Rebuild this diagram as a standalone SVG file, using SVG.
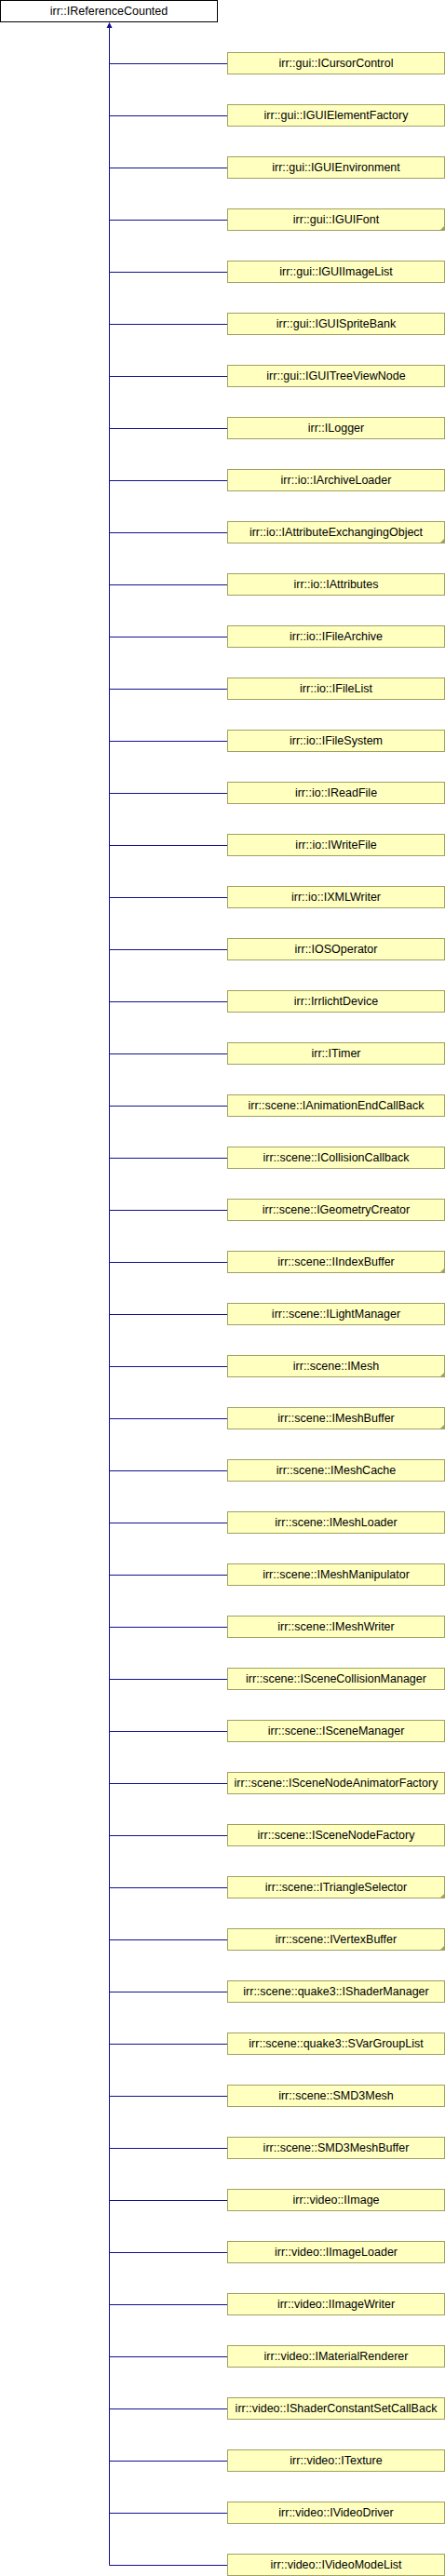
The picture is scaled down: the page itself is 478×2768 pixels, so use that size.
<svg xmlns="http://www.w3.org/2000/svg" width="478" height="2768" viewBox="0 0 478 2768">
<style>
.bg{fill:#ffffff}
.base{fill:#ffffff;stroke:#000000;stroke-width:1}
.box{fill:#ffffc0;stroke:#a0a060;stroke-width:1}
.lbl{font-family:"Liberation Sans",Arial,sans-serif;font-size:12.5px;fill:#000000;text-anchor:middle}
.edge{stroke:#101090;stroke-width:1;fill:none}
.arrow{fill:#101090}
.mark{fill:#a0a060}
</style>
<rect class="bg" x="0" y="0" width="478" height="2768"/>
<g id="connectors">
<path class="edge" d="M117.5 29V2756.5"/>
<polygon class="arrow" points="117.5,24 114.5,30 120.5,30"/>
<path class="edge" d="M117.5 68.5H244 M117.5 124.5H244 M117.5 180.5H244 M117.5 236.5H244 M117.5 292.5H244 M117.5 348.5H244 M117.5 404.5H244 M117.5 460.5H244 M117.5 516.5H244 M117.5 572.5H244 M117.5 628.5H244 M117.5 684.5H244 M117.5 740.5H244 M117.5 796.5H244 M117.5 852.5H244 M117.5 908.5H244 M117.5 964.5H244 M117.5 1020.5H244 M117.5 1076.5H244 M117.5 1132.5H244 M117.5 1188.5H244 M117.5 1244.5H244 M117.5 1300.5H244 M117.5 1356.5H244 M117.5 1412.5H244 M117.5 1468.5H244 M117.5 1524.5H244 M117.5 1580.5H244 M117.5 1636.5H244 M117.5 1692.5H244 M117.5 1748.5H244 M117.5 1804.5H244 M117.5 1860.5H244 M117.5 1916.5H244 M117.5 1972.5H244 M117.5 2028.5H244 M117.5 2084.5H244 M117.5 2140.5H244 M117.5 2196.5H244 M117.5 2252.5H244 M117.5 2308.5H244 M117.5 2364.5H244 M117.5 2420.5H244 M117.5 2476.5H244 M117.5 2532.5H244 M117.5 2588.5H244 M117.5 2644.5H244 M117.5 2700.5H244 M117.5 2756.5H244"/>
</g>
<g id="n0"><rect class="base" x="0.5" y="0.5" width="233" height="23"/><text class="lbl" x="117" y="16">irr::IReferenceCounted</text></g>
<g id="n1"><rect class="box" x="244.5" y="56.5" width="233" height="23"/><text class="lbl" x="361" y="72">irr::gui::ICursorControl</text></g>
<g id="n2"><rect class="box" x="244.5" y="112.5" width="233" height="23"/><text class="lbl" x="361" y="128">irr::gui::IGUIElementFactory</text></g>
<g id="n3"><rect class="box" x="244.5" y="168.5" width="233" height="23"/><text class="lbl" x="361" y="184">irr::gui::IGUIEnvironment</text></g>
<g id="n4"><rect class="box" x="244.5" y="224.5" width="233" height="23"/><text class="lbl" x="361" y="240">irr::gui::IGUIFont</text><polygon class="mark" points="472,248 478,242 478,248"/></g>
<g id="n5"><rect class="box" x="244.5" y="280.5" width="233" height="23"/><text class="lbl" x="361" y="296">irr::gui::IGUIImageList</text></g>
<g id="n6"><rect class="box" x="244.5" y="336.5" width="233" height="23"/><text class="lbl" x="361" y="352">irr::gui::IGUISpriteBank</text></g>
<g id="n7"><rect class="box" x="244.5" y="392.5" width="233" height="23"/><text class="lbl" x="361" y="408">irr::gui::IGUITreeViewNode</text></g>
<g id="n8"><rect class="box" x="244.5" y="448.5" width="233" height="23"/><text class="lbl" x="361" y="464">irr::ILogger</text></g>
<g id="n9"><rect class="box" x="244.5" y="504.5" width="233" height="23"/><text class="lbl" x="361" y="520">irr::io::IArchiveLoader</text></g>
<g id="n10"><rect class="box" x="244.5" y="560.5" width="233" height="23"/><text class="lbl" x="361" y="576">irr::io::IAttributeExchangingObject</text><polygon class="mark" points="472,584 478,578 478,584"/></g>
<g id="n11"><rect class="box" x="244.5" y="616.5" width="233" height="23"/><text class="lbl" x="361" y="632">irr::io::IAttributes</text></g>
<g id="n12"><rect class="box" x="244.5" y="672.5" width="233" height="23"/><text class="lbl" x="361" y="688">irr::io::IFileArchive</text></g>
<g id="n13"><rect class="box" x="244.5" y="728.5" width="233" height="23"/><text class="lbl" x="361" y="744">irr::io::IFileList</text></g>
<g id="n14"><rect class="box" x="244.5" y="784.5" width="233" height="23"/><text class="lbl" x="361" y="800">irr::io::IFileSystem</text></g>
<g id="n15"><rect class="box" x="244.5" y="840.5" width="233" height="23"/><text class="lbl" x="361" y="856">irr::io::IReadFile</text></g>
<g id="n16"><rect class="box" x="244.5" y="896.5" width="233" height="23"/><text class="lbl" x="361" y="912">irr::io::IWriteFile</text></g>
<g id="n17"><rect class="box" x="244.5" y="952.5" width="233" height="23"/><text class="lbl" x="361" y="968">irr::io::IXMLWriter</text></g>
<g id="n18"><rect class="box" x="244.5" y="1008.5" width="233" height="23"/><text class="lbl" x="361" y="1024">irr::IOSOperator</text></g>
<g id="n19"><rect class="box" x="244.5" y="1064.5" width="233" height="23"/><text class="lbl" x="361" y="1080">irr::IrrlichtDevice</text></g>
<g id="n20"><rect class="box" x="244.5" y="1120.5" width="233" height="23"/><text class="lbl" x="361" y="1136">irr::ITimer</text></g>
<g id="n21"><rect class="box" x="244.5" y="1176.5" width="233" height="23"/><text class="lbl" x="361" y="1192">irr::scene::IAnimationEndCallBack</text></g>
<g id="n22"><rect class="box" x="244.5" y="1232.5" width="233" height="23"/><text class="lbl" x="361" y="1248">irr::scene::ICollisionCallback</text></g>
<g id="n23"><rect class="box" x="244.5" y="1288.5" width="233" height="23"/><text class="lbl" x="361" y="1304">irr::scene::IGeometryCreator</text></g>
<g id="n24"><rect class="box" x="244.5" y="1344.5" width="233" height="23"/><text class="lbl" x="361" y="1360">irr::scene::IIndexBuffer</text><polygon class="mark" points="472,1368 478,1362 478,1368"/></g>
<g id="n25"><rect class="box" x="244.5" y="1400.5" width="233" height="23"/><text class="lbl" x="361" y="1416">irr::scene::ILightManager</text></g>
<g id="n26"><rect class="box" x="244.5" y="1456.5" width="233" height="23"/><text class="lbl" x="361" y="1472">irr::scene::IMesh</text><polygon class="mark" points="472,1480 478,1474 478,1480"/></g>
<g id="n27"><rect class="box" x="244.5" y="1512.5" width="233" height="23"/><text class="lbl" x="361" y="1528">irr::scene::IMeshBuffer</text><polygon class="mark" points="472,1536 478,1530 478,1536"/></g>
<g id="n28"><rect class="box" x="244.5" y="1568.5" width="233" height="23"/><text class="lbl" x="361" y="1584">irr::scene::IMeshCache</text></g>
<g id="n29"><rect class="box" x="244.5" y="1624.5" width="233" height="23"/><text class="lbl" x="361" y="1640">irr::scene::IMeshLoader</text></g>
<g id="n30"><rect class="box" x="244.5" y="1680.5" width="233" height="23"/><text class="lbl" x="361" y="1696">irr::scene::IMeshManipulator</text></g>
<g id="n31"><rect class="box" x="244.5" y="1736.5" width="233" height="23"/><text class="lbl" x="361" y="1752">irr::scene::IMeshWriter</text></g>
<g id="n32"><rect class="box" x="244.5" y="1792.5" width="233" height="23"/><text class="lbl" x="361" y="1808">irr::scene::ISceneCollisionManager</text></g>
<g id="n33"><rect class="box" x="244.5" y="1848.5" width="233" height="23"/><text class="lbl" x="361" y="1864">irr::scene::ISceneManager</text></g>
<g id="n34"><rect class="box" x="244.5" y="1904.5" width="233" height="23"/><text class="lbl" x="361" y="1920">irr::scene::ISceneNodeAnimatorFactory</text></g>
<g id="n35"><rect class="box" x="244.5" y="1960.5" width="233" height="23"/><text class="lbl" x="361" y="1976">irr::scene::ISceneNodeFactory</text></g>
<g id="n36"><rect class="box" x="244.5" y="2016.5" width="233" height="23"/><text class="lbl" x="361" y="2032">irr::scene::ITriangleSelector</text><polygon class="mark" points="472,2040 478,2034 478,2040"/></g>
<g id="n37"><rect class="box" x="244.5" y="2072.5" width="233" height="23"/><text class="lbl" x="361" y="2088">irr::scene::IVertexBuffer</text><polygon class="mark" points="472,2096 478,2090 478,2096"/></g>
<g id="n38"><rect class="box" x="244.5" y="2128.5" width="233" height="23"/><text class="lbl" x="361" y="2144">irr::scene::quake3::IShaderManager</text></g>
<g id="n39"><rect class="box" x="244.5" y="2184.5" width="233" height="23"/><text class="lbl" x="361" y="2200">irr::scene::quake3::SVarGroupList</text></g>
<g id="n40"><rect class="box" x="244.5" y="2240.5" width="233" height="23"/><text class="lbl" x="361" y="2256">irr::scene::SMD3Mesh</text></g>
<g id="n41"><rect class="box" x="244.5" y="2296.5" width="233" height="23"/><text class="lbl" x="361" y="2312">irr::scene::SMD3MeshBuffer</text></g>
<g id="n42"><rect class="box" x="244.5" y="2352.5" width="233" height="23"/><text class="lbl" x="361" y="2368">irr::video::IImage</text></g>
<g id="n43"><rect class="box" x="244.5" y="2408.5" width="233" height="23"/><text class="lbl" x="361" y="2424">irr::video::IImageLoader</text></g>
<g id="n44"><rect class="box" x="244.5" y="2464.5" width="233" height="23"/><text class="lbl" x="361" y="2480">irr::video::IImageWriter</text></g>
<g id="n45"><rect class="box" x="244.5" y="2520.5" width="233" height="23"/><text class="lbl" x="361" y="2536">irr::video::IMaterialRenderer</text></g>
<g id="n46"><rect class="box" x="244.5" y="2576.5" width="233" height="23"/><text class="lbl" x="361" y="2592">irr::video::IShaderConstantSetCallBack</text></g>
<g id="n47"><rect class="box" x="244.5" y="2632.5" width="233" height="23"/><text class="lbl" x="361" y="2648">irr::video::ITexture</text></g>
<g id="n48"><rect class="box" x="244.5" y="2688.5" width="233" height="23"/><text class="lbl" x="361" y="2704">irr::video::IVideoDriver</text></g>
<g id="n49"><rect class="box" x="244.5" y="2744.5" width="233" height="23"/><text class="lbl" x="361" y="2760">irr::video::IVideoModeList</text></g>
</svg>
